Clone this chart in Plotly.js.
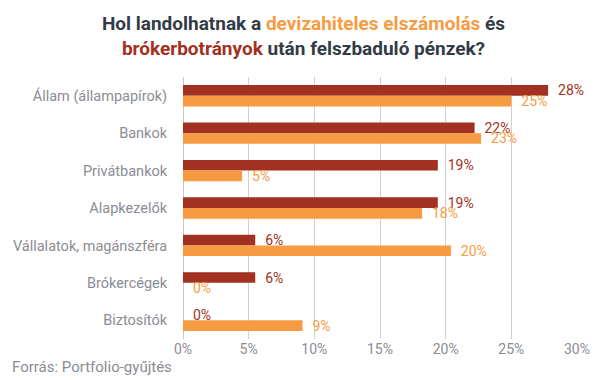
<!DOCTYPE html>
<html>
<head>
<meta charset="utf-8">
<script src="https://cdn.plot.ly/plotly-3.0.1.min.js"></script>
<style>html,body{margin:0;padding:0;background:#fff;}#chart{width:607px;height:380px;}</style>
</head>
<body>
<div id="chart"></div>
<script>
const categories = ["Állam (állampapírok)", "Bankok", "Privátbankok", "Alapkezelők", "Vállalatok, magánszféra", "Brókercégek", "Biztosítók"];
const brokerValues = [27.8, 22.2, 19.4, 19.4, 5.5, 5.5, 0];
const brokerLabels = ["28%", "22%", "19%", "19%", "6%", "6%", "0%"];
const devizaValues = [25.0, 22.7, 4.5, 18.2, 20.4, 0, 9.1];
const devizaLabels = ["25%", "23%", "5%", "18%", "20%", "0%", "9%"];
const xTicks = [0, 5, 10, 15, 20, 25, 30];
const xTickLabels = ["0%", "5%", "10%", "15%", "20%", "25%", "30%"];

const RED = "#a23121", ORANGE = "#f79b43";
const pad = s => "\u00a0\u00a0" + s;

const traces = [
  {type: "bar", orientation: "h", name: "brókerbotrányok", y: categories, x: brokerValues,
   text: brokerLabels.map(pad), textposition: "outside", cliponaxis: false, constraintext: "none",
   textfont: {family: "Roboto", size: 14, color: RED}, marker: {color: RED}, hoverinfo: "none"},
  {type: "bar", orientation: "h", name: "devizahiteles elszámolás", y: categories, x: devizaValues,
   text: devizaLabels.map(pad), textposition: "outside", cliponaxis: false, constraintext: "none",
   textfont: {family: "Roboto", size: 14, color: ORANGE}, marker: {color: ORANGE}, hoverinfo: "none"}
];

const layout = {
  width: 607, height: 380,
  margin: {l: 183, r: 30, t: 77, b: 41},
  paper_bgcolor: "#fff", plot_bgcolor: "#fff",
  showlegend: false,
  barmode: "group", bargap: 0.43, bargroupgap: 0,
  font: {family: "Roboto", size: 14, color: "#8a8d93"},
  title: {
    text: "<b>Hol landolhatnak a <span style='color:" + ORANGE + "'>devizahiteles elszámolás</span> és<br><span style='color:" + RED + "'>brókerbotrányok</span> után felszbaduló pénzek?</b>",
    font: {family: "Roboto", size: 19, color: "#333b45"},
    x: 0.5, xanchor: "center", xref: "container", yref: "container", y: 0.92, yanchor: "middle"
  },
  xaxis: {range: [0, 30], tickvals: xTicks, ticktext: xTickLabels, showgrid: true, gridcolor: "#d0d0d0",
          zeroline: true, zerolinecolor: "#c8c8c8", showline: false, fixedrange: true,
          tickfont: {family: "Roboto", size: 14, color: "#8a8d93"}},
  yaxis: {autorange: "reversed", showgrid: false, zeroline: false, showline: false, ticks: "outside",
          ticklen: 12, tickcolor: "rgba(0,0,0,0)",
          tickfont: {family: "Roboto", size: 14.5, color: "#8a8d93"}},
  annotations: [{text: "Forrás: Portfolio-gyűjtés", xref: "paper", yref: "paper", x: -0.439, y: -0.107,
                 xanchor: "left", yanchor: "middle", showarrow: false,
                 font: {family: "Roboto", size: 15, color: "#8a8d93"}}]
};

Plotly.newPlot("chart", traces, layout, {displayModeBar: false, staticPlot: true});
</script>
</body>
</html>
